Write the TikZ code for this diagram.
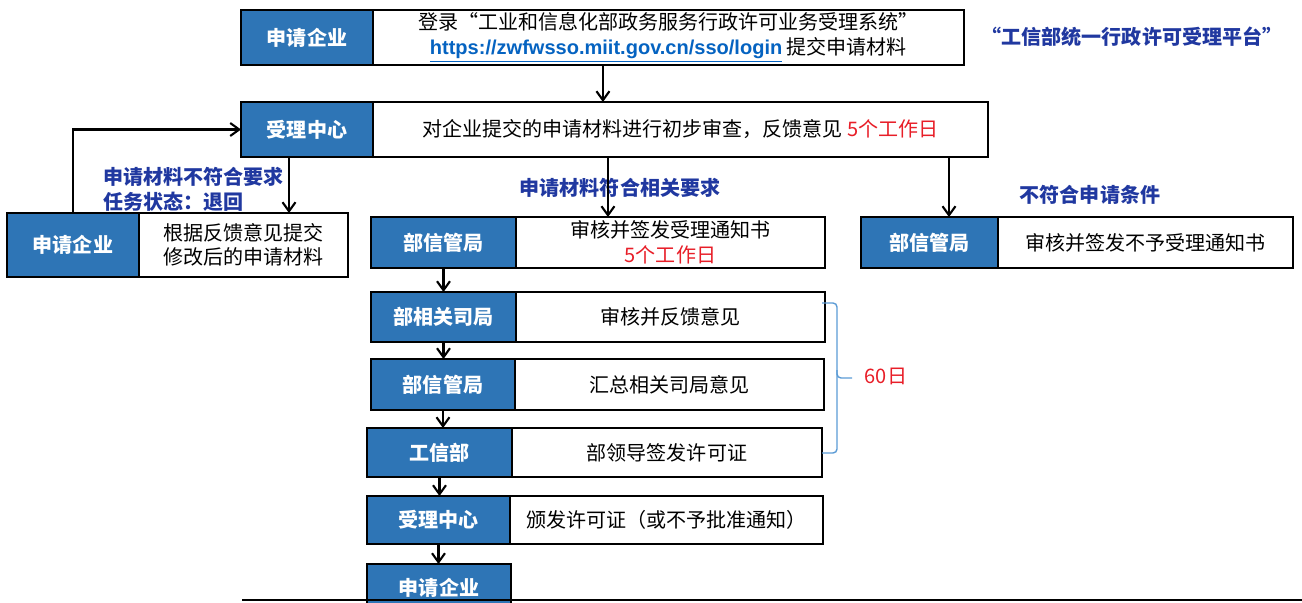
\documentclass[tikz,border=0pt]{standalone}
\usepackage{fontspec}
\usepackage{tikz}
\usetikzlibrary{positioning,arrows.meta}
\setmainfont{Liberation Sans}
\newfontfamily\cjk{Noto Sans CJK SC}
\definecolor{boxBlue}{RGB}{46,117,182}
\definecolor{noteBlue}{RGB}{32,56,160}
\definecolor{linkBlue}{RGB}{5,99,193}
\definecolor{dayRed}{RGB}{232,30,40}
\definecolor{braceBlue}{RGB}{91,155,213}
\newcommand{\txt}{\cjk\fontsize{11.4}{14}\selectfont}
\tikzset{
    box/.style={draw=black, line width=1.4pt, inner sep=0pt, outer sep=0pt, align=center},
    bluebox/.style={box, fill=boxBlue, text=white, font=\txt\bfseries},
    whitebox/.style={box, fill=white, font=\txt},
    note/.style={text=noteBlue, font=\txt\bfseries, align=left, inner sep=0pt},
    flow/.style={-{Straight Barb[length=1.8mm,width=2.6mm]}, line width=1.2pt}
}

\begin{document}
\begin{tikzpicture}[x=0.02cm, y=-0.02cm]
        \path[use as bounding box, clip] (0,0) rectangle (1302,602);

        % top row
        \node[bluebox, minimum width=2.64cm, minimum height=1.10cm] (r1b) at (307,37.5) {申请企业};
        \node[whitebox, right=0pt of r1b, minimum width=11.82cm, minimum height=1.10cm] (r1t)
            {登录“工业和信息化部政务服务行政许可业务受理系统”\\
             {\rmfamily\bfseries\color{linkBlue}\underline{https://zwfwsso.miit.gov.cn/sso/login}} 提交申请材料};
        \node[note] (plat) at (1132,37) {“工信部统一行政许可受理平台”};

        % second row
        \node[bluebox, minimum width=2.64cm, minimum height=1.10cm] (r2b) at (307,129.5) {受理中心};
        \node[whitebox, right=0pt of r2b, minimum width=12.30cm, minimum height=1.10cm] (r2t)
            {对企业提交的申请材料进行初步审查，反馈意见 \textcolor{dayRed}{5个工作日}};

        % returned to the applicant
        \node[bluebox, minimum width=2.64cm, minimum height=1.28cm] (lqb) at (73,245) {申请企业};
        \node[whitebox, right=0pt of lqb, minimum width=4.18cm, minimum height=1.28cm] (lqt)
            {根据反馈意见提交\\修改后的申请材料};
        \node[note, anchor=west] (nobad) at (103,189.5) {申请材料不符合要求\\任务状态：退回};

        % accepted
        \node[bluebox, minimum width=2.90cm, minimum height=1.02cm] (r3b) at (443.5,242.5) {部信管局};
        \node[whitebox, right=0pt of r3b, minimum width=6.18cm, minimum height=1.02cm] (r3t)
            {审核并签发受理通知书\\\textcolor{dayRed}{5个工作日}};
        \node[note] (nook) at (620,188) {申请材料符合相关要求};

        % not accepted
        \node[bluebox, minimum width=2.74cm, minimum height=1.02cm] (rrb) at (929.5,242.5) {部信管局};
        \node[whitebox, right=0pt of rrb, minimum width=5.90cm, minimum height=1.02cm] (rrt)
            {审核并签发不予受理通知书};
        \node[note] (nono) at (1090,195) {不符合申请条件};

        % review chain
        \node[bluebox, minimum width=2.90cm, minimum height=1.00cm] (r4b) at (443.5,317) {部相关司局};
        \node[whitebox, right=0pt of r4b, minimum width=6.18cm, minimum height=1.00cm] (r4t) {审核并反馈意见};
        \node[bluebox, minimum width=2.88cm, minimum height=1.02cm] (r5b) at (443,384.5) {部信管局};
        \node[whitebox, right=0pt of r5b, minimum width=6.18cm, minimum height=1.02cm] (r5t) {汇总相关司局意见};
        \node[bluebox, minimum width=2.90cm, minimum height=0.98cm] (r6b) at (439.5,452.5) {工信部};
        \node[whitebox, right=0pt of r6b, minimum width=6.20cm, minimum height=0.98cm] (r6t) {部领导签发许可证};
        \node[bluebox, minimum width=2.86cm, minimum height=0.96cm] (r7b) at (438.5,520) {受理中心};
        \node[whitebox, right=0pt of r7b, minimum width=6.26cm, minimum height=0.96cm] (r7t) {颁发许可证（或不予批准通知）};
        \node[bluebox, minimum width=2.88cm, minimum height=0.96cm] (r8b) at (439,588) {申请企业};

        % 60 days
        \draw[braceBlue, line width=0.8pt, rounded corners=0.08cm] (822,303) -- (837,303) -- (837,378) -- (852,378);
        \draw[braceBlue, line width=0.8pt, rounded corners=0.08cm] (837,370) -- (837,453) -- (822,453);
        \node[text=dayRed, font=\txt] (days) at (886,376) {60日};

        % arrows
        \draw[flow] ([xshift=-1.31cm]r1t.south) -- ([xshift=-1.31cm]r1t.south |- r2t.north);
        \draw[flow] (lqb.north) |- (r2b.west);
        \draw[flow] ([xshift=-0.36cm]r2b.south) -- ([xshift=-0.36cm]r2b.south |- lqt.north);
        \draw[flow] ([xshift=-1.25cm]r3t.north |- r2t.south) -- ([xshift=-1.25cm]r3t.north);
        \draw[flow] ([xshift=0.39cm]rrb.north |- r2t.south) -- ([xshift=0.39cm]rrb.north);
        \draw[flow] (r3b.south) -- (r3b.south |- r4b.north);
        \draw[flow] (r4b.south) -- (r4b.south |- r5b.north);
        \draw[flow] (r5b.south) -- (r5b.south |- r6b.north);
        \draw[flow] (r6b.south) -- (r6b.south |- r7b.north);
        \draw[flow] (r7b.south) -- (r7b.south |- r8b.north);

        % bottom rule
        \draw[line width=1pt] (242,600) -- (1302,600);
    \end{tikzpicture}
\end{document}
